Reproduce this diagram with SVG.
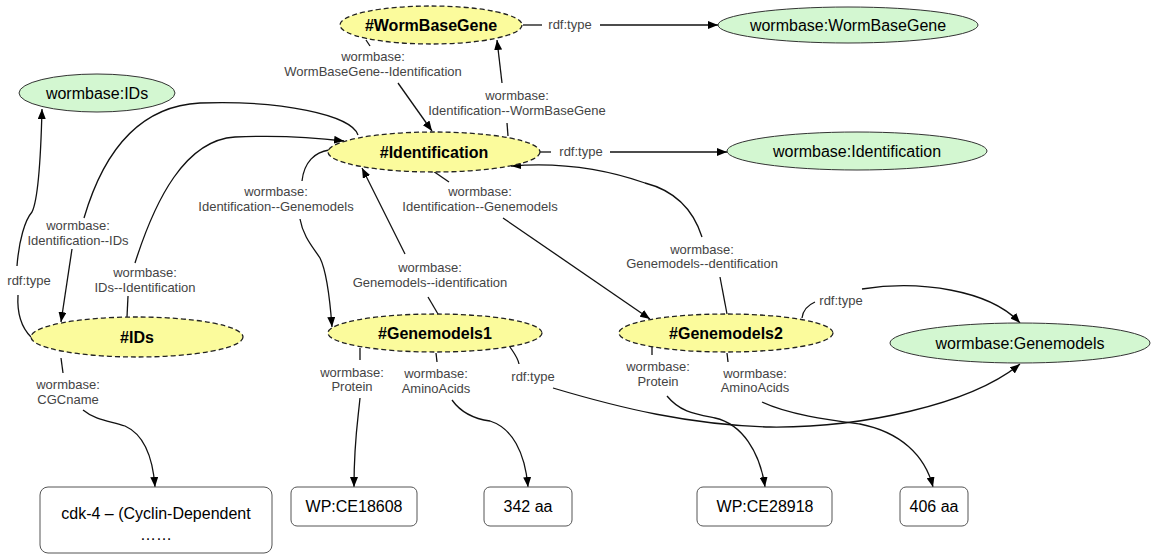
<svg xmlns="http://www.w3.org/2000/svg" width="1152" height="555" viewBox="0 0 1152 555">
<style>
.bg{fill:#ffffff}
.inst{fill:#fbfb9c;stroke:#222;stroke-width:1.3;stroke-dasharray:5,3}
.cls{fill:#d3f7d1;stroke:#333;stroke-width:1}
.lit{fill:#ffffff;stroke:#555;stroke-width:1}
.t-inst{font-family:"Liberation Sans",Arial,sans-serif;font-size:16px;font-weight:bold;fill:#000;text-anchor:middle}
.t-cls{font-family:"Liberation Sans",Arial,sans-serif;font-size:16px;fill:#000;text-anchor:middle}
.t-lit{font-family:"Liberation Sans",Arial,sans-serif;font-size:16px;fill:#000;text-anchor:middle}
.lbl{font-family:"Liberation Sans",Arial,sans-serif;font-size:13px;fill:#444;text-anchor:middle}
.e{fill:none;stroke:#111;stroke-width:1.3}
</style>
<defs>
<marker id="arr" viewBox="0 0 10 8" refX="10" refY="4" markerWidth="10" markerHeight="8" markerUnits="userSpaceOnUse" orient="auto">
<path d="M0,0 L10,4 L0,8 Z" fill="#000"/>
</marker>
</defs>
<rect class="bg" x="0" y="0" width="1152" height="555"/>

<g id="connectors">
<!-- WormBaseGene rdf:type -->
<path class="e" d="M523,25 L542,25"/>
<path class="e" d="M600,25 L718,25" marker-end="url(#arr)"/>
<!-- WormBaseGene -> Identification -->
<path class="e" d="M366,40 L370,46"/>
<path class="e" d="M398,83 L432,131" marker-end="url(#arr)"/>
<!-- Identification -> WormBaseGene -->
<path class="e" d="M508,136 L507,123"/>
<path class="e" d="M502,83 L497,40" marker-end="url(#arr)"/>
<!-- Identification rdf:type -->
<path class="e" d="M540,152 L551,152"/>
<path class="e" d="M610,152 L727,152" marker-end="url(#arr)"/>
<!-- Identification -> IDs -->
<path class="e" d="M358,135 C352,115 280,100 200,103 C140,106 104,150 84,218"/>
<path class="e" d="M72,249 L61,322" marker-end="url(#arr)"/>
<!-- IDs -> Identification -->
<path class="e" d="M127,317 L128,296"/>
<path class="e" d="M135,263 C155,200 185,140 235,137 C280,135 320,138 344,141" marker-end="url(#arr)"/>
<!-- IDs rdf:type -->
<path class="e" d="M31,337 C21,327 17,312 18,295"/>
<path class="e" d="M17,266 C19,240 25,220 32,212 C38,200 41,150 42,109" marker-end="url(#arr)"/>
<!-- Identification -> Genemodels1 -->
<path class="e" d="M329,150 C315,152 304,162 302,181"/>
<path class="e" d="M300,219 C303,236 312,246 320,258 C327,272 330,300 332,327" marker-end="url(#arr)"/>
<!-- Genemodels1 -> Identification -->
<path class="e" d="M438,314 L428,297"/>
<path class="e" d="M405,254 L362,168" marker-end="url(#arr)"/>
<!-- Identification -> Genemodels2 -->
<path class="e" d="M433,171 L449,182"/>
<path class="e" d="M503,218 L650,319" marker-end="url(#arr)"/>
<!-- Genemodels2 -> Identification -->
<path class="e" d="M727,314 L720,277"/>
<path class="e" d="M702,237 C695,215 680,192 645,183 C605,169 560,162 511,166" marker-end="url(#arr)"/>
<!-- Genemodels2 rdf:type -->
<path class="e" d="M802,318 C803,310 808,305 815,302"/>
<path class="e" d="M862,289 C920,280 990,290 1020,323" marker-end="url(#arr)"/>
<!-- Genemodels1 rdf:type -->
<path class="e" d="M510,347 C514,353 518,358 519,364"/>
<path class="e" d="M553,388 C620,408 690,425 770,427 C860,428 970,405 1020,364" marker-end="url(#arr)"/>
<!-- IDs CGCname -->
<path class="e" d="M61,358 L63,373"/>
<path class="e" d="M83,410 C95,420 110,421 125,426 C145,435 153,460 155,487" marker-end="url(#arr)"/>
<!-- Genemodels1 Protein -->
<path class="e" d="M360,348 L360,360"/>
<path class="e" d="M360,398 C358,420 354,440 354,487" marker-end="url(#arr)"/>
<!-- Genemodels1 AminoAcids -->
<path class="e" d="M436,353 L437,362"/>
<path class="e" d="M452,400 C462,414 475,419 490,421 C512,428 525,452 528,487" marker-end="url(#arr)"/>
<!-- Genemodels2 Protein -->
<path class="e" d="M652,347 L652,355"/>
<path class="e" d="M667,396 C680,412 695,414 715,418 C742,424 760,452 765,487" marker-end="url(#arr)"/>
<!-- Genemodels2 AminoAcids -->
<path class="e" d="M727,353 L728,362"/>
<path class="e" d="M762,402 C790,415 830,420 860,424 C900,432 925,455 933,487" marker-end="url(#arr)"/>

<!-- labels -->
<text class="lbl" x="570" y="29">rdf:type</text>
<text class="lbl" x="373" y="61">wormbase:<tspan x="373" y="76">WormBaseGene--Identification</tspan></text>
<text class="lbl" x="517" y="100">wormbase:<tspan x="517" y="115">Identification--WormBaseGene</tspan></text>
<text class="lbl" x="581" y="156">rdf:type</text>
<text class="lbl" x="78" y="230">wormbase:<tspan x="78" y="245">Identification--IDs</tspan></text>
<text class="lbl" x="145" y="277">wormbase:<tspan x="145" y="292">IDs--Identification</tspan></text>
<text class="lbl" x="29" y="285">rdf:type</text>
<text class="lbl" x="276" y="196">wormbase:<tspan x="276" y="211">Identification--Genemodels</tspan></text>
<text class="lbl" x="430" y="272">wormbase:<tspan x="430" y="287">Genemodels--identification</tspan></text>
<text class="lbl" x="480" y="196">wormbase:<tspan x="480" y="211">Identification--Genemodels</tspan></text>
<text class="lbl" x="702" y="254">wormbase:<tspan x="702" y="268">Genemodels--dentification</tspan></text>
<text class="lbl" x="841" y="305">rdf:type</text>
<text class="lbl" x="533" y="381">rdf:type</text>
<text class="lbl" x="68" y="389">wormbase:<tspan x="68" y="404">CGCname</tspan></text>
<text class="lbl" x="352" y="377">wormbase:<tspan x="352" y="391">Protein</tspan></text>
<text class="lbl" x="436" y="378">wormbase:<tspan x="436" y="393">AminoAcids</tspan></text>
<text class="lbl" x="658" y="371">wormbase:<tspan x="658" y="386">Protein</tspan></text>
<text class="lbl" x="755" y="378">wormbase:<tspan x="755" y="392">AminoAcids</tspan></text>
</g>

<g id="n-wormbasegene">
<ellipse class="inst" cx="431" cy="25" rx="91" ry="19"/>
<text class="t-inst" x="431" y="31">#WormBaseGene</text>
</g>
<g id="c-wormbasegene">
<ellipse class="cls" cx="848" cy="25" rx="130" ry="18"/>
<text class="t-cls" x="848" y="31">wormbase:WormBaseGene</text>
</g>
<g id="c-ids">
<ellipse class="cls" cx="97" cy="93" rx="78" ry="19"/>
<text class="t-cls" x="97" y="99">wormbase:IDs</text>
</g>
<g id="n-identification">
<ellipse class="inst" cx="434" cy="152" rx="106" ry="20"/>
<text class="t-inst" x="434" y="158">#Identification</text>
</g>
<g id="c-identification">
<ellipse class="cls" cx="857" cy="151" rx="130" ry="19"/>
<text class="t-cls" x="857" y="157">wormbase:Identification</text>
</g>
<g id="n-ids">
<ellipse class="inst" cx="137" cy="337" rx="106" ry="20"/>
<text class="t-inst" x="137" y="343">#IDs</text>
</g>
<g id="n-genemodels1">
<ellipse class="inst" cx="435" cy="333" rx="107" ry="19"/>
<text class="t-inst" x="435" y="339">#Genemodels1</text>
</g>
<g id="n-genemodels2">
<ellipse class="inst" cx="726" cy="333" rx="107" ry="19"/>
<text class="t-inst" x="726" y="339">#Genemodels2</text>
</g>
<g id="c-genemodels">
<ellipse class="cls" cx="1020" cy="343" rx="130" ry="20"/>
<text class="t-cls" x="1020" y="349">wormbase:Genemodels</text>
</g>
<g id="l-cdk4">
<rect class="lit" x="40" y="487" width="232" height="66" rx="8"/>
<text class="t-lit" x="156" y="519">cdk-4 – (Cyclin-Dependent</text>
<text class="t-lit" x="156" y="540">……</text>
</g>
<g id="l-ce18608">
<rect class="lit" x="291" y="487" width="126" height="39" rx="6"/>
<text class="t-lit" x="354" y="512">WP:CE18608</text>
</g>
<g id="l-342">
<rect class="lit" x="484" y="487" width="88" height="39" rx="6"/>
<text class="t-lit" x="528" y="512">342 aa</text>
</g>
<g id="l-ce28918">
<rect class="lit" x="697" y="487" width="135" height="39" rx="6"/>
<text class="t-lit" x="765" y="512">WP:CE28918</text>
</g>
<g id="l-406">
<rect class="lit" x="900" y="487" width="68" height="39" rx="6"/>
<text class="t-lit" x="934" y="512">406 aa</text>
</g>
</svg>
